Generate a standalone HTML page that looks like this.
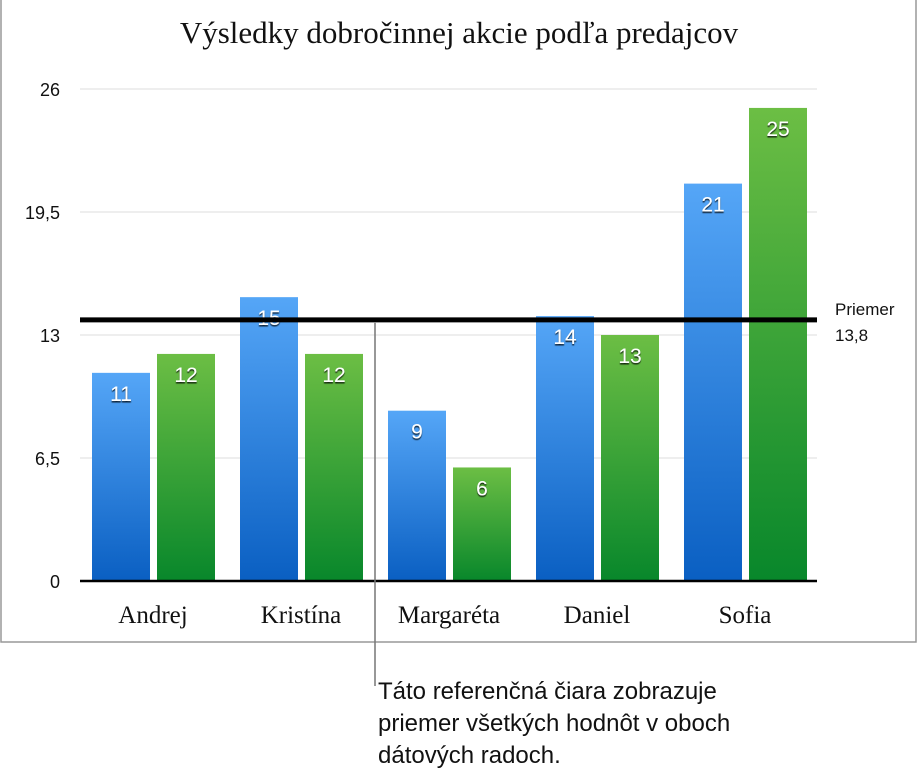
<!DOCTYPE html>
<html><head><meta charset="utf-8"><style>
body{margin:0;background:#fff;width:918px;height:782px;overflow:hidden;font-family:"Liberation Sans",sans-serif}
svg{display:block}
</style></head><body>
<svg id="c" width="918" height="782" xmlns="http://www.w3.org/2000/svg">
<defs>
<linearGradient id="gb" x1="0" y1="0" x2="0" y2="1"><stop offset="0" stop-color="#55a6f7"/><stop offset="1" stop-color="#0a5fc2"/></linearGradient>
<linearGradient id="gg" x1="0" y1="0" x2="0" y2="1"><stop offset="0" stop-color="#6cbe44"/><stop offset="1" stop-color="#08872b"/></linearGradient>
<filter id="sh"><feDropShadow dx="0" dy="1.5" stdDeviation="0.6" flood-color="#000" flood-opacity="0.8"/></filter>
</defs>
<rect x="1" y="-2" width="915" height="644" fill="none" stroke="#999" stroke-width="1.5"/>
<text x="459" y="43" text-anchor="middle" font-family="'Liberation Serif',serif" font-size="31" fill="#111">Výsledky dobročinnej akcie podľa predajcov</text>
<g id="grid"></g><g id="bars"></g>
</svg>
<script>
const categories=["Andrej","Kristína","Margaréta","Daniel","Sofia"];
const seriesA=[11,15,9,14,21];
const seriesB=[12,12,6,13,25];
const tickValues=[0,6.5,13,19.5,26];
const tickLabels=["0","6,5","13","19,5","26"];
const meanValue=13.8;
const meanLabel="13,8";
const NS="http://www.w3.org/2000/svg";
const svg=document.getElementById('c');
const y0=581,yMax=26,plotH=492,xL=80,xR=817;
function y(v){return y0-v/yMax*plotH;}
function gx(i){return 92+i*148;}
function mk(tag,attrs,parent){const e=document.createElementNS(NS,tag);for(const k in attrs)e.setAttribute(k,attrs[k]);(parent||svg).appendChild(e);return e;}
const grid=document.getElementById('grid'),bars=document.getElementById('bars');
tickValues.forEach((v,i)=>{
  if(v>0){const l=mk('line',{x1:xL,x2:xR,y1:y(v),y2:y(v),stroke:'#ddd','stroke-width':1},grid);
  
  }
  const t=mk('text',{x:60,y:y(v)+7,'text-anchor':'end','font-size':18,fill:'#111'},grid);
  t.textContent=tickLabels[i];
  
  
});
categories.forEach((c,i)=>{
  [[seriesA,'url(#gb)','blue'],[seriesB,'url(#gg)','green']].forEach(([s,f,n],j)=>{
    const x=gx(i)+j*65,v=s[i];
    const r=mk('rect',{x:x,y:y(v),width:58,height:y0-y(v),fill:f},bars);
    
    
    const t=mk('text',{x:x+29,y:y(v)+28,'text-anchor':'middle','font-size':21,fill:'#fff',filter:'url(#sh)'},bars);
    t.textContent=v;
    
    
  });
  const t=mk('text',{x:gx(i)+61,y:623,'text-anchor':'middle','font-family':"'Liberation Serif',serif",'font-size':25,fill:'#111'});
  t.textContent=c;
  
  
});
const ax=mk('line',{x1:xL,x2:xR,y1:y0,y2:y0,stroke:'#000','stroke-width':2.5});


const ml=mk('line',{x1:xL,x2:xR,y1:y(meanValue),y2:y(meanValue),stroke:'#000','stroke-width':5});


const m1=mk('text',{x:835,y:315,'font-size':17,fill:'#111'});m1.textContent='Priemer';


const m2=mk('text',{x:835,y:341,'font-size':17,fill:'#111'});m2.textContent=meanLabel;


const cl=mk('line',{x1:375,x2:375,y1:y(meanValue)+3,y2:686,stroke:'#777','stroke-width':1.5});


["Táto referenčná čiara zobrazuje","priemer všetkých hodnôt v oboch","dátových radoch."].forEach((s,i)=>{
  const t=mk('text',{x:378,y:699+i*32,'font-size':24,fill:'#111'});t.textContent=s;
  
  
});
</script>
</body></html>
